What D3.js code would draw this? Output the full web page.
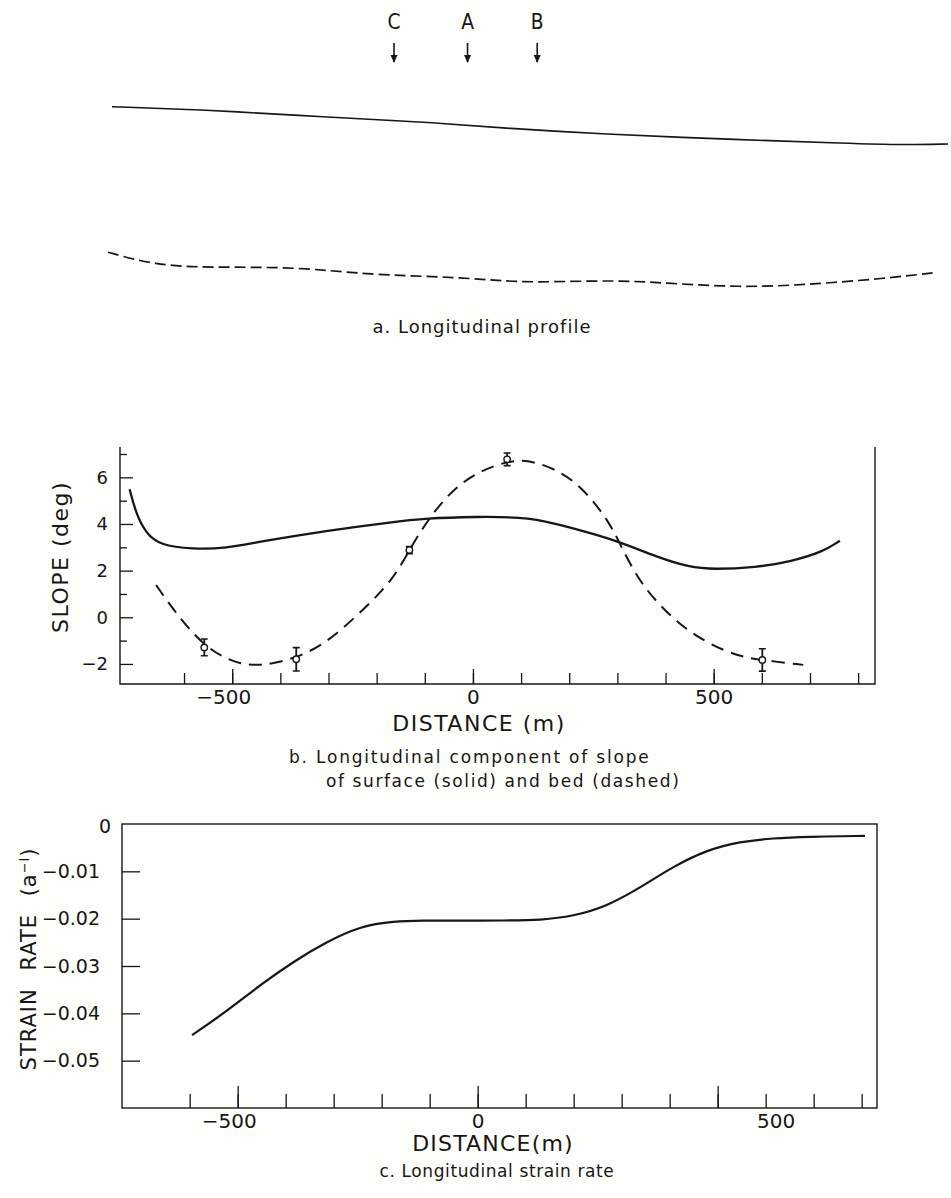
<!DOCTYPE html>
<html>
<head>
<meta charset="utf-8">
<script src="https://cdn.jsdelivr.net/npm/d3@7"></script>
<style>
  body { margin: 0; background: #fefefb; }
  svg { display: block; }
  text { font-family: "DejaVu Sans", sans-serif; fill: #161616; }
</style>
</head>
<body>
<div id="chart"></div>
<script>
// Panel a: longitudinal profile (distance m, relative elevation m)
const stations = ['C', 'A', 'B'];
const stationX = [-153, 0, 145];
const surfX = [-740, -539, -370, -145, -54, 81, 273, 566, 792, 904, 1000];
const surfElev = [-6.7, -10, -15, -20.7, -23.3, -28.3, -34, -39.8, -43.3, -45, -44];
const bedX = [-748, -652, -539, -359, -201, -43, 47, 137, 307, 419, 566, 701, 871, 972];
const bedElev = [-152.3, -165, -167.7, -166.7, -175, -176.7, -180, -182.7, -180, -183.3, -187.3, -185, -178.3, -172.7];

// Panel b: longitudinal component of slope (deg)
const slopeSurfX = [-713, -700, -679, -651, -582, -512, -443, -305, -166, -97, 0, 118, 208, 298, 381, 450, 499, 589, 658, 727, 762];
const slopeSurf = [5.49, 4.46, 3.60, 3.10, 2.92, 2.96, 3.24, 3.71, 4.09, 4.24, 4.31, 4.31, 3.81, 3.30, 2.59, 2.14, 2.05, 2.14, 2.38, 2.81, 3.28];
const slopeBedX = [-658, -617, -558, -499, -443, -367, -305, -235, -166, -132, -97, -28, 69, 125, 208, 277, 305, 346, 416, 485, 554, 599, 686];
const slopeBed = [1.38, 0.17, -1.26, -1.94, -2.12, -1.76, -1.11, 0.17, 1.60, 2.88, 4.10, 5.88, 6.74, 6.74, 6.03, 4.31, 3.17, 1.46, -0.12, -1.11, -1.69, -1.83, -2.04];
const obsX = [-558, -367, -132, 71, 601];
const obsSlope = [-1.29, -1.80, 2.88, 6.77, -1.83];
const obsErr = [0.36, 0.5, 0.15, 0.27, 0.48];

// Panel c: longitudinal strain rate (a^-1)
const strainX = [-595, -523, -453, -384, -315, -245, -176, -106, -79, 67, 130, 199, 269, 338, 407, 477, 547, 616, 685, 807];
const strain = [-0.0446, -0.0396, -0.0340, -0.0291, -0.0249, -0.0216, -0.0205, -0.0204, -0.0204, -0.0204, -0.0203, -0.0195, -0.0174, -0.0135, -0.0090, -0.0055, -0.0037, -0.0030, -0.0027, -0.0025];

const distTicks = d3.range(-600, 801, 100);
const majorDist = [-500, 0, 500];

const W = 951, H = 1198;
const ink = '#161616';
const minus = s => s.replace('-', '\u2212');

const svg = d3.select('#chart').append('svg')
    .attr('width', W)
    .attr('height', H);

// ---------- panel a ----------
const xA = d3.scaleLinear().domain([-740, 1000]).range([112, 948]);
const yA = d3.scaleLinear().domain([0, -200]).range([100, 300]);
const lineA = d3.line().curve(d3.curveBasis);

const gA = svg.append('g');

stations.forEach((s, i) => {
    const x = xA(stationX[i]);
    gA.append('text')
        .attr('x', x)
        .attr('y', 29)
        .attr('text-anchor', 'middle')
        .style('font-size', '22px')
        .attr('transform', `translate(${x},0) scale(0.85,1) translate(${-x},0)`)
        .text(s);
    gA.append('line')
        .attr('x1', x).attr('x2', x)
        .attr('y1', 43).attr('y2', 62)
        .attr('stroke', ink).attr('stroke-width', 1.6);
    gA.append('path')
        .attr('d', `M${x - 3.5},55 L${x},63 L${x + 3.5},55 Z`)
        .attr('fill', ink);
});

gA.append('path')
    .attr('d', lineA(surfX.map((d, i) => [xA(d), yA(surfElev[i])])))
    .attr('fill', 'none')
    .attr('stroke', ink)
    .attr('stroke-width', 1.6);

gA.append('path')
    .attr('d', lineA(bedX.map((d, i) => [xA(d), yA(bedElev[i])])))
    .attr('fill', 'none')
    .attr('stroke', ink)
    .attr('stroke-width', 1.7)
    .attr('stroke-dasharray', '11,5');

gA.append('text')
    .attr('x', 482)
    .attr('y', 333)
    .attr('text-anchor', 'middle')
    .style('font-size', '18px')
    .style('letter-spacing', '1px')
    .text('a. Longitudinal profile');

// ---------- panel b ----------
const xB = d3.scaleLinear().domain([-733, 835]).range([120, 875]);
const yB = d3.scaleLinear().domain([-2.86, 7.3]).range([684, 447]);
const gB = svg.append('g');

function distAxis(g, x, yPos, minorLen, majorLen, fontSize) {
    g.append('g')
        .attr('transform', `translate(0,${yPos})`)
        .call(d3.axisBottom(x).tickValues(distTicks).tickSize(-minorLen).tickSizeOuter(0).tickFormat(''))
        .call(a => a.select('.domain').remove());
    const maj = g.append('g')
        .attr('transform', `translate(0,${yPos})`)
        .call(d3.axisBottom(x).tickValues(majorDist).tickSize(-majorLen).tickSizeOuter(0).tickPadding(6)
            .tickFormat(d => minus(String(d))))
        .call(a => a.select('.domain').remove());
    maj.selectAll('text')
        .style('font-size', fontSize + 'px')
        .style('font-family', '"DejaVu Sans", sans-serif')
        .attr('fill', ink)
        .attr('dx', d => d < 0 ? -9 : 0);
    g.selectAll('.tick line').attr('stroke', ink).attr('stroke-width', 1.3);
    return maj;
}

distAxis(gB, xB, 684, 11, 15, 20);

// y axis with even (major) and odd (minor) ticks
gB.append('g')
    .attr('transform', 'translate(120,0)')
    .call(d3.axisLeft(yB).tickValues([-1, 1, 3, 5, 7]).tickSize(-7).tickSizeOuter(0).tickFormat(''))
    .call(a => a.select('.domain').remove());
gB.append('g')
    .attr('transform', 'translate(120,0)')
    .call(d3.axisLeft(yB).tickValues([-2, 0, 2, 4, 6]).tickSize(-13).tickSizeOuter(0).tickPadding(12)
        .tickFormat(d => minus(String(d))))
    .call(a => a.select('.domain').remove())
    .call(a => a.selectAll('text')
        .style('font-size', '18px')
        .style('font-family', '"DejaVu Sans", sans-serif')
        .attr('fill', ink));
gB.selectAll('.tick line').attr('stroke', ink).attr('stroke-width', 1.3);

// open frame: left, bottom, right
gB.append('path')
    .attr('d', `M${xB.range()[0]},${yB.range()[1]} V${yB.range()[0]} H${xB.range()[1]} V${yB.range()[1]}`)
    .attr('fill', 'none')
    .attr('stroke', ink)
    .attr('stroke-width', 1.4);

const lineB = d3.line().x(d => xB(d[0])).y(d => yB(d[1])).curve(d3.curveBasis);

gB.append('path')
    .attr('d', lineB(slopeSurfX.map((d, i) => [d, slopeSurf[i]])))
    .attr('fill', 'none')
    .attr('stroke', ink)
    .attr('stroke-width', 2.3);

gB.append('path')
    .attr('d', lineB(slopeBedX.map((d, i) => [d, slopeBed[i]])))
    .attr('fill', 'none')
    .attr('stroke', ink)
    .attr('stroke-width', 2)
    .attr('stroke-dasharray', '13,8');

// observations with error bars
const obs = gB.append('g')
    .selectAll('g')
    .data(obsX.map((d, i) => ({ x: d, y: obsSlope[i], e: obsErr[i] })))
    .enter().append('g');

obs.append('line')
    .attr('x1', d => xB(d.x)).attr('x2', d => xB(d.x))
    .attr('y1', d => yB(d.y + d.e)).attr('y2', d => yB(d.y - d.e))
    .attr('stroke', ink).attr('stroke-width', 1.8);
obs.append('path')
    .attr('d', d => `M${xB(d.x) - 3.5},${yB(d.y + d.e)} h7 M${xB(d.x) - 3.5},${yB(d.y - d.e)} h7`)
    .attr('stroke', ink).attr('stroke-width', 1.6);
obs.append('circle')
    .attr('cx', d => xB(d.x))
    .attr('cy', d => yB(d.y))
    .attr('r', 3.2)
    .attr('fill', '#fefefb')
    .attr('stroke', ink)
    .attr('stroke-width', 1.4);

gB.append('text')
    .attr('x', 479)
    .attr('y', 731)
    .attr('text-anchor', 'middle')
    .style('font-size', '22px')
    .style('letter-spacing', '1.5px')
    .text('DISTANCE (m)');

gB.append('text')
    .attr('transform', 'translate(68,557) rotate(-90)')
    .attr('text-anchor', 'middle')
    .style('font-size', '22px')
    .style('letter-spacing', '1.5px')
    .text('SLOPE (deg)');

gB.append('text')
    .attr('x', 289)
    .attr('y', 763)
    .style('font-size', '17px')
    .style('letter-spacing', '1.8px')
    .text('b. Longitudinal component of slope');
gB.append('text')
    .attr('x', 326)
    .attr('y', 787)
    .style('font-size', '17px')
    .style('letter-spacing', '1.6px')
    .text('of surface (solid) and bed (dashed)');

// ---------- panel c ----------
const xC = d3.scaleLinear().domain([-741, 832]).range([122, 877]);
const yC = d3.scaleLinear().domain([-0.06, 0]).range([1108, 824]);
const gC = svg.append('g');

// the "500" label in the original sits right of its tick
distAxis(gC, xC, 1108, 14, 22, 20)
    .selectAll('text')
    .attr('dx', d => d < 0 ? -9 : d === 500 ? 58 : 0);

gC.append('g')
    .attr('transform', 'translate(122,0)')
    .call(d3.axisLeft(yC).tickValues([0, -0.01, -0.02, -0.03, -0.04, -0.05]).tickSize(-18).tickSizeOuter(0)
        .tickPadding(22).tickFormat(d => d === 0 ? '0' : minus(d3.format('.2f')(d))))
    .call(a => a.select('.domain').remove())
    .call(a => a.selectAll('text')
        .style('font-size', '19px')
        .style('font-family', '"DejaVu Sans", sans-serif')
        .attr('fill', ink)
        .attr('dx', d => d === 0 ? 11 : 0)
        .attr('dy', d => d === 0 ? '0.45em' : '0.32em'))
    .call(a => a.selectAll('.tick line')
        .attr('stroke', ink).attr('stroke-width', 1.3)
        .attr('x2', d => d === 0 ? 0 : 18));

gC.append('rect')
    .attr('x', xC.range()[0])
    .attr('y', yC.range()[1])
    .attr('width', xC.range()[1] - xC.range()[0])
    .attr('height', yC.range()[0] - yC.range()[1])
    .attr('fill', 'none')
    .attr('stroke', ink)
    .attr('stroke-width', 1.4);

gC.append('path')
    .attr('d', d3.line().x(d => xC(d[0])).y(d => yC(d[1])).curve(d3.curveBasis)(strainX.map((d, i) => [d, strain[i]])))
    .attr('fill', 'none')
    .attr('stroke', ink)
    .attr('stroke-width', 2.2);

gC.append('text')
    .attr('x', 493)
    .attr('y', 1151)
    .attr('text-anchor', 'middle')
    .style('font-size', '22px')
    .style('letter-spacing', '1.2px')
    .text('DISTANCE(m)');

const yLabC = gC.append('text')
    .attr('transform', 'translate(36,959) rotate(-90)')
    .attr('text-anchor', 'middle')
    .style('font-size', '21px')
    .style('letter-spacing', '1px')
    .style('word-spacing', '10px');
yLabC.append('tspan').text('STRAIN RATE (a');
yLabC.append('tspan').attr('dy', -7).style('font-size', '13px').text('\u2212l');
yLabC.append('tspan').attr('dy', 7).text(')');

gC.append('text')
    .attr('x', 497)
    .attr('y', 1177)
    .attr('text-anchor', 'middle')
    .style('font-size', '17px')
    .style('letter-spacing', '0.6px')
    .text('c. Longitudinal strain rate');
</script>
</body>
</html>
